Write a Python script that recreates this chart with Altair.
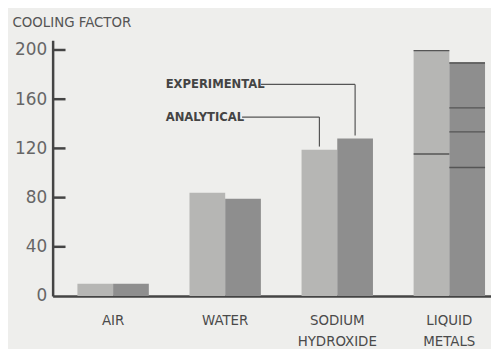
import altair as alt
import pandas as pd

categories = ["AIR", "WATER", "SODIUM HYDROXIDE", "LIQUID METALS"]
label_line1 = ["AIR", "WATER", "SODIUM", "LIQUID"]
label_line2 = ["", "", "HYDROXIDE", "METALS"]
series = ["ANALYTICAL", "EXPERIMENTAL"]
analytical = [10, 84, 119, 200]
experimental = [10, 79, 128, 190]
y_ticks = [0, 40, 80, 120, 160, 200]
inner_ticks = [40, 80, 120, 160, 200]
liquid_analytical_lines = [200, 116]
liquid_experimental_lines = [190, 153.5, 134, 105]
# annotation: label height (data units) and the bar it points to
annot_series = ["EXPERIMENTAL", "ANALYTICAL"]
annot_level = [172, 145.5]
annot_target = [128, 119]

NARROW = "Liberation Sans Narrow, DejaVu Sans Condensed, sans-serif"
W, H = 442, 258
P_IN, P_OUT, ALIGN = 0.3628, 0.1372, 0.806
Y_MAX = 208

bars = pd.DataFrame({
    "category": categories * 2,
    "series": [series[0]] * 4 + [series[1]] * 4,
    "value": analytical + experimental,
})

lines = pd.DataFrame({
    "category": ["LIQUID METALS"] * (len(liquid_analytical_lines) + len(liquid_experimental_lines)),
    "series": [series[0]] * len(liquid_analytical_lines) + [series[1]] * len(liquid_experimental_lines),
    "value": liquid_analytical_lines + liquid_experimental_lines,
})
lines["value2"] = lines["value"] - 1.1

labels = pd.DataFrame({"category": categories, "l1": label_line1, "l2": label_line2})

# band geometry (used only for the leader lines)
step = W / (len(categories) - P_IN + 2 * P_OUT)
start = (W - step * (len(categories) - P_IN)) * ALIGN
bw = step * (1 - P_IN)
sod = categories.index("SODIUM HYDROXIDE")
centers = {
    "ANALYTICAL": start + sod * step + bw / 4,
    "EXPERIMENTAL": start + sod * step + 3 * bw / 4,
}
text_x = 114
text_end = {"EXPERIMENTAL": 210, "ANALYTICAL": 191}

annot = pd.DataFrame({
    "category": ["SODIUM HYDROXIDE"] * 2,
    "series": annot_series,
    "level": annot_level,
    "target": [t + 2.5 for t in annot_target],
})

xscale = alt.Scale(domain=categories, paddingInner=P_IN, paddingOuter=P_OUT, align=ALIGN)
yscale = alt.Scale(domain=[0, Y_MAX], nice=False)
offscale = alt.Scale(domain=series, paddingInner=0, paddingOuter=0)

bar_layer = alt.Chart(bars).mark_bar().encode(
    x=alt.X("category:N", scale=xscale, sort=categories,
            axis=alt.Axis(labels=False, ticks=False, title=None, domainColor="#444",
                          domainWidth=2.5)),
    xOffset=alt.XOffset("series:N", scale=offscale, sort=series),
    y=alt.Y("value:Q", scale=yscale,
            axis=alt.Axis(values=y_ticks, ticks=False, grid=False, labelPadding=6,
                          labelFont="DejaVu Sans, sans-serif", labelFontSize=17,
                          labelColor="#666", domainColor="#444", domainWidth=2.5,
                          title="COOLING FACTOR", titleAngle=0, titleAlign="left",
                          titleBaseline="alphabetic", titleX=-41, titleY=-14,
                          titleFont=NARROW, titleFontSize=15, titleFontWeight="normal",
                          titleColor="#555")),
    color=alt.Color("series:N", scale=alt.Scale(domain=series, range=["#b6b6b4", "#8e8e8e"]),
                    legend=None),
)

line_layer = alt.Chart(lines).mark_bar(color="#555").encode(
    x=alt.X("category:N", scale=xscale, sort=categories),
    xOffset=alt.XOffset("series:N", scale=offscale, sort=series),
    y=alt.Y("value:Q", scale=yscale),
    y2="value2:Q",
)

tick_layer = alt.Chart(pd.DataFrame({"v": inner_ticks})).mark_rule(
    color="#444", strokeWidth=2.5).encode(
    y=alt.Y("v:Q", scale=yscale), x=alt.value(0), x2=alt.value(13))

l1_layer = alt.Chart(labels).mark_text(
    font=NARROW, fontSize=15, color="#4a4a4a", baseline="alphabetic").encode(
    x=alt.X("category:N", scale=xscale, sort=categories),
    y=alt.value(H + 29), text="l1:N")
l2_layer = alt.Chart(labels).mark_text(
    font=NARROW, fontSize=15, color="#4a4a4a", baseline="alphabetic").encode(
    x=alt.X("category:N", scale=xscale, sort=categories),
    y=alt.value(H + 50), text="l2:N")

annot_text = alt.Chart(annot).mark_text(
    font=NARROW, fontSize=13, fontWeight="bold", color="#444", align="left",
    baseline="middle").encode(
    x=alt.value(text_x), y=alt.Y("level:Q", scale=yscale), text="series:N")

annot_v = alt.Chart(annot).mark_rule(color="#555", strokeWidth=1.2).encode(
    x=alt.X("category:N", scale=xscale, sort=categories),
    xOffset=alt.XOffset("series:N", scale=offscale, sort=series),
    y=alt.Y("level:Q", scale=yscale), y2="target:Q")

h_layers = []
for s in annot_series:
    d = annot[annot["series"] == s]
    h_layers.append(alt.Chart(d).mark_rule(color="#555", strokeWidth=1.2).encode(
        x=alt.value(text_end[s]), x2=alt.value(centers[s]),
        y=alt.Y("level:Q", scale=yscale)))

chart = alt.layer(bar_layer, line_layer, tick_layer, l1_layer, l2_layer,
                  annot_text, annot_v, *h_layers).properties(
    width=W, height=H,
    background="#eeeeec",
    autosize=alt.AutoSizeParams(type="none"),
    padding={"left": 45, "top": 31, "right": 0, "bottom": 52},
).configure_view(stroke=None)

chart.save("out.html", embed_options={"renderer": "svg", "actions": False})
